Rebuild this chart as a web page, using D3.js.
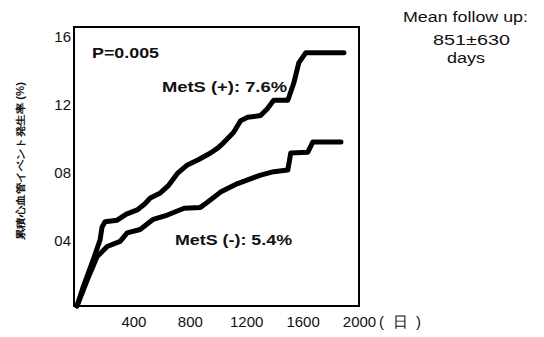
<!DOCTYPE html>
<html>
<head>
<meta charset="utf-8">
<script src="https://cdn.jsdelivr.net/npm/d3@7"></script>
<style>
  body { margin: 0; background: #fff; }
  text { font-family: "Liberation Sans", Arial, sans-serif; fill: #111; }
</style>
</head>
<body>
<svg id="mainSVG"></svg>
<script>
// days, cumulative %
let metsPlusDays = [0, 43, 114, 164, 178, 199, 285, 350, 427, 480, 520, 591, 650, 712, 783, 860, 947, 1000, 1039, 1110, 1160, 1210, 1302, 1350, 1395, 1495, 1537, 1573, 1623, 1893]
let metsPlusPct  = [0, 1.1, 2.7, 3.9, 4.65, 4.95, 5.05, 5.4, 5.65, 6.0, 6.35, 6.65, 7.1, 7.8, 8.3, 8.6, 9.0, 9.3, 9.6, 10.2, 10.9, 11.1, 11.2, 11.6, 12.1, 12.1, 13.1, 14.3, 14.9, 14.9]
let metsMinusDays = [0, 71, 142, 214, 306, 356, 448, 541, 641, 760, 875, 925, 1018, 1139, 1220, 1302, 1395, 1495, 1516, 1637, 1673, 1872]
let metsMinusPct  = [0, 1.5, 2.9, 3.5, 3.8, 4.3, 4.5, 5.1, 5.35, 5.75, 5.8, 6.1, 6.7, 7.2, 7.45, 7.7, 7.9, 8.0, 9.0, 9.05, 9.65, 9.65]
let xTicks = [400, 800, 1200, 1600, 2000]
let yTicks = [4, 8, 12, 16]

let w = 544, h = 337
let svg = d3.select('#mainSVG').attr('width', w).attr('height', h)

let x = d3.scaleLinear().domain([0, 2000]).range([77, 359])
let y = d3.scaleLinear().domain([0, 16]).range([306, 34])

// frame
svg.append('rect')
    .attr('x', 74).attr('y', 27)
    .attr('width', 359 - 74).attr('height', 306 - 27)
    .attr('fill', 'none').attr('stroke', '#000').attr('stroke-width', 2)

let xAxis = svg.append('g')
    .attr('transform', 'translate(0, 306)')
    .call(d3.axisBottom(x).tickValues(xTicks).tickSize(0).tickPadding(0).tickFormat(d3.format('d')))
xAxis.select('.domain').remove()
xAxis.selectAll('text')
    .attr('y', 21).attr('dy', 0)
    .attr('font-size', 15).attr('font-family', '"Liberation Sans", Arial, sans-serif')
    .attr('fill', '#111')

let yAxis = svg.append('g')
    .attr('transform', 'translate(71, 0)')
    .call(d3.axisLeft(y).tickValues(yTicks).tickSize(0).tickPadding(0).tickFormat(d3.format('02d')))
yAxis.select('.domain').remove()
yAxis.selectAll('text')
    .attr('x', 0).attr('dy', '0.38em')
    .attr('transform', 'translate(0, 2)')
    .attr('font-size', 15).attr('font-family', '"Liberation Sans", Arial, sans-serif')
    .attr('fill', '#111')

svg.append('text')
    .attr('x', 379).attr('y', 327)
    .attr('font-size', 15)
    .attr('font-family', '"Noto Sans CJK JP", sans-serif')
    .attr('textLength', 42).attr('lengthAdjust', 'spacing')
    .text('(日)')

// curves
let line = d3.line().x(d => x(d[0])).y(d => y(d[1]))
let series = [d3.zip(metsPlusDays, metsPlusPct), d3.zip(metsMinusDays, metsMinusPct)]
svg.selectAll('.km')
    .data(series)
    .join('path')
    .attr('class', 'km')
    .attr('fill', 'none')
    .attr('stroke', '#000')
    .attr('stroke-width', 5)
    .attr('stroke-linejoin', 'round')
    .attr('stroke-linecap', 'round')
    .attr('d', line)

// labels
function label(t, xp, yp, size, len, bold){
    return svg.append('text')
        .attr('x', xp).attr('y', yp)
        .attr('font-size', size)
        .attr('font-weight', bold ? 'bold' : 'normal')
        .attr('textLength', len).attr('lengthAdjust', 'spacingAndGlyphs')
        .text(t)
}
label('P=0.005', 92, 58, 15, 67, true)
label('MetS (+): 7.6%', 162, 92, 15, 125, true)
label('MetS (-): 5.4%', 175, 245, 15, 117, true)
label('Mean follow up:', 403, 22, 14, 125, false)
label('851\u00b1630', 433, 45, 14, 77, false)
label('days', 447, 63, 14, 38, false)

svg.append('text')
    .attr('transform', 'translate(24, 161) rotate(-90)')
    .attr('text-anchor', 'middle')
    .attr('font-size', 10)
    .attr('font-weight', 'bold')
    .attr('font-family', '"Noto Sans CJK JP", sans-serif')
    .attr('textLength', 158).attr('lengthAdjust', 'spacingAndGlyphs')
    .text('累積心血管イベント発生率 (%)')
</script>
</body>
</html>
